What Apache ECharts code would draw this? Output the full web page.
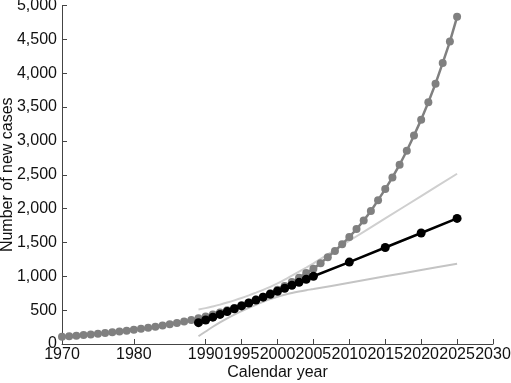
<!DOCTYPE html>
<html>
<head>
<meta charset="utf-8">
<script src="https://cdn.jsdelivr.net/npm/echarts@6/dist/echarts.min.js"></script>
<style>
html,body{margin:0;padding:0;background:#fff;}
#chart{width:511px;height:383px;}
</style>
</head>
<body>
<div id="chart"></div>
<script>
// Projection (gray), annual 1970-2025
const grayYears = [1970,1971,1972,1973,1974,1975,1976,1977,1978,1979,1980,1981,1982,1983,1984,1985,1986,1987,1988,1989,1990,1991,1992,1993,1994,1995,1996,1997,1998,1999,2000,2001,2002,2003,2004,2005,2006,2007,2008,2009,2010,2011,2012,2013,2014,2015,2016,2017,2018,2019,2020,2021,2022,2023,2024,2025];
const grayValues = [108,115,123,132,141,150,161,172,183,196,209,224,239,255,273,291,311,333,355,380,407,435,466,498,533,571,611,653,699,748,800,856,916,980,1048,1110,1194,1283,1375,1475,1580,1697,1825,1965,2125,2288,2460,2648,2855,3081,3314,3570,3846,4152,4467,4833];

// Black series
const blackYears = [1989,1990,1991,1992,1993,1994,1995,1996,1997,1998,1999,2000,2001,2002,2003,2004,2005,2010,2015,2020,2025];
const blackValues = [315,355,396,437,479,521,563,606,649,692,735,779,823,867,911,956,1001,1210,1425,1640,1855];

// Uncertainty bounds (light gray)
const boundYears = [1989,1990,1991,1992,1993,1994,1995,1996,1997,1998,1999,2000,2001,2002,2003,2004,2005,2010,2015,2020,2025];
const upperValues = [510,530,555,582,612,645,680,718,758,800,845,895,950,1010,1070,1130,1192,1525,1855,2185,2515];
const lowerValues = [115,185,255,320,380,435,487,535,580,622,662,698,728,754,776,795,812,905,1000,1093,1185];

// Axis ticks
const xTickValues = [1970,1980,1990,1995,2000,2005,2010,2015,2020,2025,2030];

function pairs(xs, ys){ return xs.map((x,i)=>[x, ys[i]]); }

const chart = echarts.init(document.getElementById('chart'), null, {renderer:'canvas'});
const font = 'Liberation Sans, Arial, Helvetica, sans-serif';
chart.setOption({
  animation: false,
  backgroundColor: '#ffffff',
  grid: {left: 62, right: 18, top: 5.5, bottom: 39, containLabel: false, outerBoundsMode: 'none'},
  xAxis: {
    type: 'value', min: 1970, max: 2030, interval: 5,
    name: 'Calendar year', nameLocation: 'middle', nameGap: 21, nameMoveOverlap: false,
    nameTextStyle: {fontFamily: font, fontSize: 16, color: '#111'},
    axisLine: {show: true, lineStyle: {color: '#444', width: 1}},
    axisTick: {show: true, inside: true, length: 5, customValues: xTickValues, lineStyle: {color: '#444'}},
    axisLabel: {customValues: xTickValues, margin: 3, fontFamily: font, fontSize: 16, color: '#111',
      hideOverlap: false, showMaxLabel: true, showMinLabel: true, formatter: v => String(v)},
    splitLine: {show: false}
  },
  yAxis: {
    type: 'value', min: 0, max: 5000, interval: 500,
    name: 'Number of new cases', nameLocation: 'middle', nameGap: 46, nameRotate: 90, nameMoveOverlap: false,
    nameTextStyle: {fontFamily: font, fontSize: 16, color: '#111'},
    axisLine: {show: true, lineStyle: {color: '#444', width: 1}},
    axisTick: {show: true, inside: true, length: 5, lineStyle: {color: '#444'}},
    axisLabel: {margin: 5, fontFamily: font, fontSize: 16, color: '#111',
      formatter: v => v.toString().replace(/\B(?=(\d{3})+(?!\d))/g, ',')},
    splitLine: {show: false}
  },
  series: [
    {type: 'line', data: pairs(boundYears, lowerValues), smooth: 0.3, showSymbol: false, symbol: 'none',
     lineStyle: {color: '#c4c4c4', width: 2}, z: 1},
    {type: 'line', data: pairs(boundYears, upperValues), smooth: 0.3, showSymbol: false, symbol: 'none',
     lineStyle: {color: '#cfcfcf', width: 2}, z: 1},
    {type: 'line', data: pairs(grayYears, grayValues), symbol: 'circle', symbolSize: 8,
     lineStyle: {color: '#808080', width: 2.5}, itemStyle: {color: '#808080'}, z: 2},
    {type: 'line', data: pairs(blackYears, blackValues), symbol: 'circle', symbolSize: 9,
     lineStyle: {color: '#000', width: 2.5}, itemStyle: {color: '#000'}, z: 3}
  ]
});
</script>
</body>
</html>
